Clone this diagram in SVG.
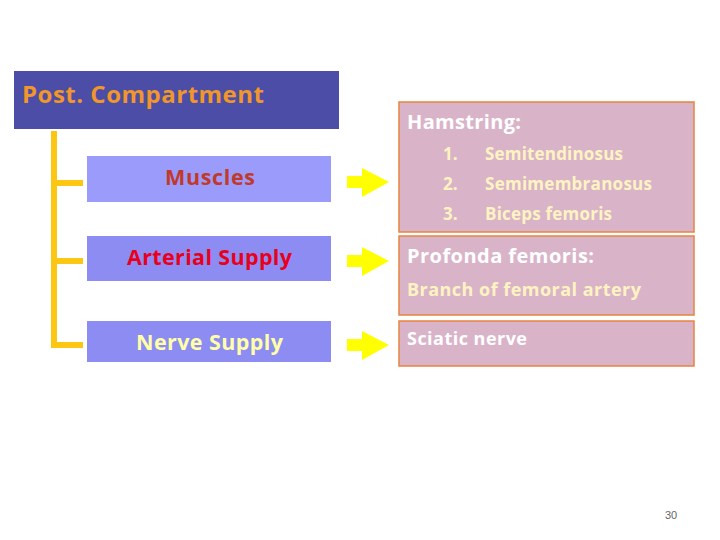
<svg xmlns="http://www.w3.org/2000/svg" width="720" height="540" viewBox="0 0 720 540">
<style>
.f{font-family:"Open Sans",Lato,"Liberation Sans",sans-serif;font-weight:bold}
.hdr{fill:#4B4DA6}
.lbox{fill:#8C8CF2}
.pbox{fill:#D9B4C9;stroke:#E8843F;stroke-width:1.5}
.arr{fill:#FFFF00}
.br{fill:none;stroke:#FCC712;stroke-width:6}
.wt{fill:#FFFFFF}
.cr{fill:#FFF3C2}
</style>
<rect width="720" height="540" fill="#FFFFFF"/>
<g id="post-compartment">
<rect class="hdr" x="14" y="71" width="325" height="58"/>
<text class="f" x="22" y="103" font-size="24" fill="#F0962A" textLength="242">Post. Compartment</text>
</g>
<g id="connectors">
<path class="br" d="M54,131 V345 H83 M54,183 H83 M54,261 H83"/>
<path class="arr" d="M347,176 H362 V168 L389,182 L362,197 V188 H347 Z"/>
<path class="arr" d="M347,255 H362 V247 L389,261 L362,276 V267 H347 Z"/>
<path class="arr" d="M347,339 H362 V331 L389,345 L362,360 V351 H347 Z"/>
</g>
<g id="muscles">
<rect x="87" y="156" width="244" height="46" fill="#9B9BFB"/>
<text class="f" x="165" y="185" font-size="21.5" fill="#C0392B" textLength="90">Muscles</text>
</g>
<g id="arterial-supply">
<rect class="lbox" x="87" y="236" width="244" height="45"/>
<text class="f" x="127" y="265" font-size="21.5" fill="#E8001C" textLength="165">Arterial Supply</text>
</g>
<g id="nerve-supply">
<rect class="lbox" x="87" y="321" width="244" height="41"/>
<text class="f" x="136" y="350" font-size="21.5" fill="#FFFFA8" textLength="147">Nerve Supply</text>
</g>
<g id="hamstring">
<rect class="pbox" x="399" y="102" width="295" height="130"/>
<text class="f wt" x="407" y="129" font-size="20" textLength="114">Hamstring:</text>
<text class="f cr" x="443" y="160" font-size="17">1.</text>
<text class="f cr" x="485" y="160" font-size="17" textLength="138">Semitendinosus</text>
<text class="f cr" x="443" y="190" font-size="17">2.</text>
<text class="f cr" x="485" y="190" font-size="17" textLength="167">Semimembranosus</text>
<text class="f cr" x="443" y="220" font-size="17">3.</text>
<text class="f cr" x="485" y="220" font-size="17" textLength="127">Biceps femoris</text>
</g>
<g id="profonda">
<rect class="pbox" x="399" y="236" width="295" height="79"/>
<text class="f wt" x="407" y="263" font-size="20" textLength="187">Profonda femoris:</text>
<text class="f cr" x="407" y="296" font-size="18" textLength="234">Branch of femoral artery</text>
</g>
<g id="sciatic">
<rect class="pbox" x="399" y="321" width="295" height="45"/>
<text class="f wt" x="407" y="345" font-size="18" textLength="120">Sciatic nerve</text>
</g>
<text x="665" y="519" font-family="'Liberation Sans',sans-serif" font-size="11" fill="#666666">30</text>
</svg>
